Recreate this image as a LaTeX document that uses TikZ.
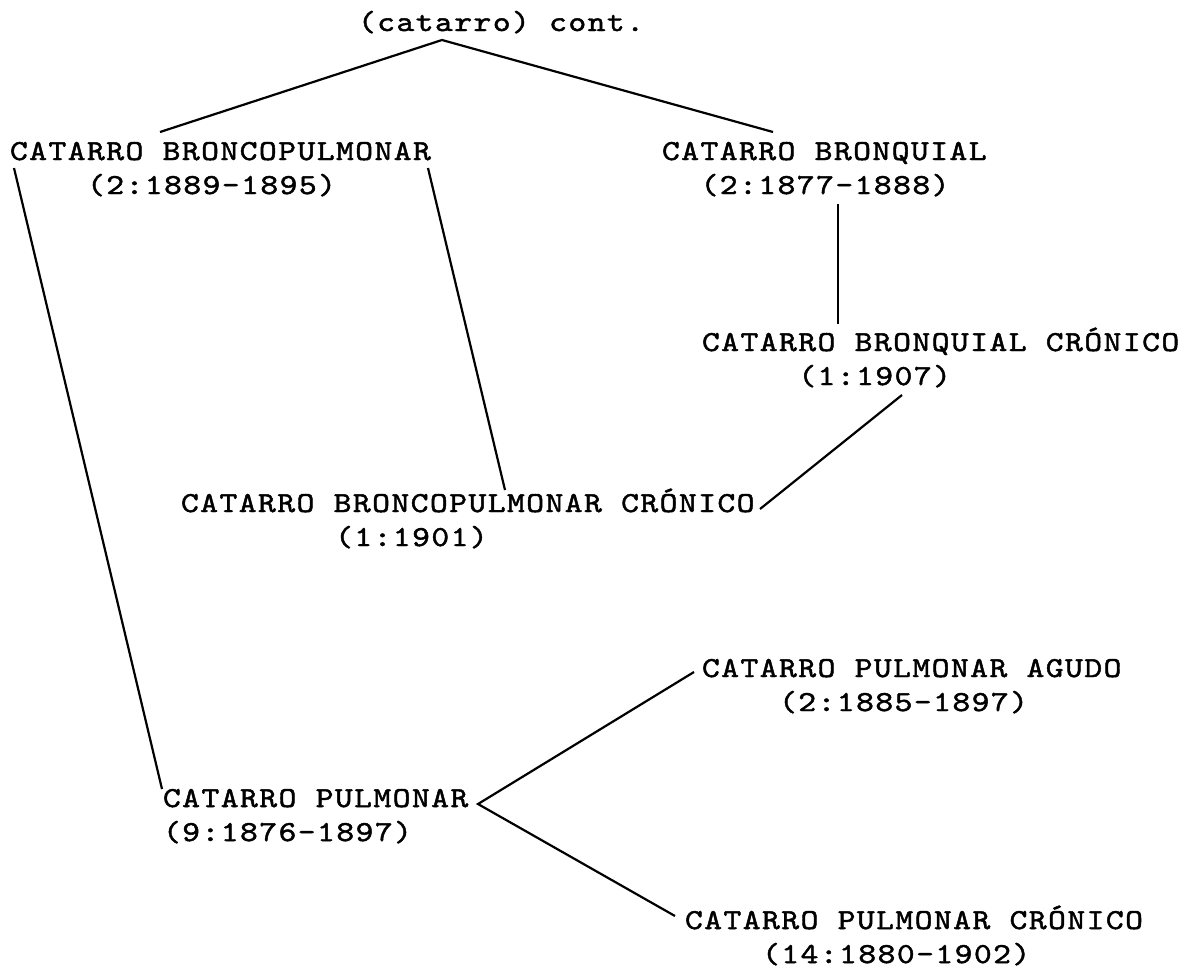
\documentclass[tikz,border=0pt]{standalone}
\usepackage{fontspec}
\newfontfamily\typewriter{lmmono10-regular.otf}[FakeStretch=1.17,LetterSpace=5,FakeBold=1.6]
\newcommand{\entrytext}[3]{\vtop{\baselineskip=17pt\lineskiplimit=-100pt\lineskip=0pt
  \hbox{#1}\hbox{\kern#2\fontcharwd\font`\0\relax\kern#2\dimexpr0.05em\relax #3}}}
\begin{document}
\begin{tikzpicture}[x=0.5pt,y=-0.5pt,
  lbl/.style={anchor=base west,inner sep=0pt,outer sep=0pt,
    font=\typewriter\fontsize{14.5}{17}\selectfont},
  conn/.style={line width=1.1pt,black}]
\path[use as bounding box] (0,0) rectangle (1203,970);
\node[lbl] (top) at (358,31) {(catarro) cont.};
\node[lbl] (bp)  at (10,160)  {\entrytext{CATARRO BRONCOPULMONAR}{4}{(2:1889-1895)}};
\node[lbl] (bq)  at (662,160) {\entrytext{CATARRO BRONQUIAL}{2}{(2:1877-1888)}};
\node[lbl] (bqc) at (702,351) {\entrytext{CATARRO BRONQUIAL CRÓNICO}{5}{(1:1907)}};
\node[lbl] (bpc) at (181,512) {\entrytext{CATARRO BRONCOPULMONAR CRÓNICO}{8}{(1:1901)}};
\node[lbl] (pa)  at (702,677) {\entrytext{CATARRO PULMONAR AGUDO}{4}{(2:1885-1897)}};
\node[lbl] (p)   at (163,807) {\entrytext{CATARRO PULMONAR}{0}{(9:1876-1897)}};
\node[lbl] (pc)  at (685,929) {\entrytext{CATARRO PULMONAR CRÓNICO}{4}{(14:1880-1902)}};
% connector end points
\coordinate (apex)  at (442,40);
\coordinate (bpT)   at (160,132);
\coordinate (bqT)   at (773,132);
\coordinate (bpL)   at (14,168);
\coordinate (pT)    at (162,789);
\coordinate (bpR)   at (428,168);
\coordinate (bpcT)  at (505,490);
\coordinate (bqB)   at (838,204);
\coordinate (bqcT)  at (838,324);
\coordinate (bqcB)  at (902,395);
\coordinate (bpcR)  at (760,509);
\coordinate (pR)    at (478,804);
\coordinate (paL)   at (694,672);
\coordinate (pcL)   at (675,916);
\draw[conn] (bpT) -- (apex) -- (bqT);
\draw[conn] (bpL) -- (pT);
\draw[conn] (bpR) -- (bpcT);
\draw[conn] (bqB) -- (bqcT);
\draw[conn] (bqcB) -- (bpcR);
\draw[conn] (paL) -- (pR) -- (pcL);
\end{tikzpicture}
\end{document}
